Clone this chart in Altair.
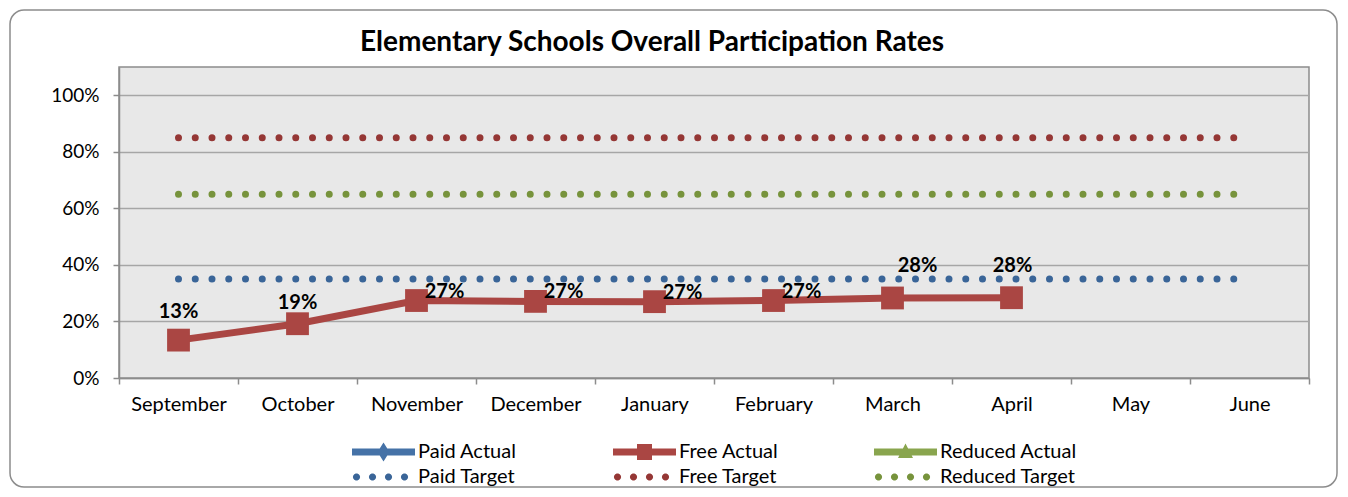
import math
import altair as alt
import pandas as pd

months = ["September", "October", "November", "December", "January",
          "February", "March", "April", "May", "June"]
free_actual = [0.134, 0.192, 0.274, 0.271, 0.270, 0.274, 0.283, 0.284]
paid_target = 0.35
free_target = 0.85
reduced_target = 0.65
series_names = ["Paid Actual", "Free Actual", "Reduced Actual",
                "Paid Target", "Free Target", "Reduced Target"]
series_colors = ["#4572A7", "#AA4643", "#89A54E", "#3A6598", "#953735", "#77933C"]
title_text = "Elementary Schools Overall Participation Rates"

FONT = "Lato"

# ---- tables built from the arrays ----
rows = []
for m, v in zip(months, free_actual):
    rows.append({"month": m, "series": "Free Actual", "value": v})
for name, t in [("Paid Target", paid_target), ("Free Target", free_target),
                ("Reduced Target", reduced_target)]:
    for m in months:
        rows.append({"month": m, "series": name, "value": t})
df = pd.DataFrame(rows)
legend_df = pd.DataFrame({"series": series_names, "month": months[0], "value": 0.0})


# ---- legend glyphs (symbol size 400 -> 10 px per unit) ----
def rect(x0, y0, x1, y1):
    return f"M{x0},{y0}L{x1},{y0}L{x1},{y1}L{x0},{y1}Z"


def circle(cx, r, n=14):
    pts = []
    for i in range(n):
        a = 2 * math.pi * i / n
        pts.append(f"{cx + r * math.cos(a):.3f},{r * math.sin(a):.3f}")
    return "M" + "L".join(pts) + "Z"


CX = 2.15
line_body = rect(-1, -0.35, 5.3, 0.35)
diamond = f"M{CX},-0.95L{CX + 0.6},0L{CX},0.95L{CX - 0.6},0Z"
square = rect(CX - 0.75, -0.8, CX + 0.75, 0.8)
triangle = f"M{CX},-0.85L{CX + 0.75},0.6L{CX - 0.75},0.6Z"
dots = "".join(circle(c, 0.36) for c in [-0.55, 1.05, 2.65, 4.25])
shapes = [line_body + diamond, line_body + square, line_body + triangle, dots, dots, dots]

x_enc = alt.X("month:N", sort=months,
              scale=alt.Scale(type="band", domain=months, paddingInner=0, paddingOuter=0),
              axis=alt.Axis(title=None, tickBand="extent", labelFontSize=20, labelFont=FONT,
                            labelColor="#000000", labelPadding=10, tickSize=6,
                            tickColor="#8C8C8C", domainColor="#8C8C8C", domainWidth=1.5,
                            tickWidth=1.5, grid=False, labelAngle=0))
y_enc = alt.Y("value:Q",
              scale=alt.Scale(domain=[0, 1.1], nice=False),
              axis=alt.Axis(title=None, values=[0, 0.2, 0.4, 0.6, 0.8, 1.0], format=".0%",
                            labelFontSize=19, labelFont=FONT, labelColor="#000000",
                            labelPadding=14, tickSize=6, tickColor="#8C8C8C", tickWidth=1.5,
                            domainColor="#8C8C8C", domainWidth=1.5,
                            grid=True, gridColor="#A6A6A6", gridWidth=1.5))

base = alt.Chart(df)

border = alt.Chart(pd.DataFrame({"a": [0]})).mark_rect(
    fillOpacity=0, stroke="#8C8C8C", strokeWidth=1.5, cornerRadius=14
).encode(x=alt.value(-109), x2=alt.value(1218), y=alt.value(-57), y2=alt.value(420))

targets = base.transform_filter(
    alt.FieldOneOfPredicate(field="series", oneOf=["Paid Target", "Free Target", "Reduced Target"])
).mark_line(strokeWidth=7, strokeDash=[0, 16.75], strokeCap="round").encode(
    x=x_enc, y=y_enc, detail="series:N",
    stroke=alt.Stroke("series:N", scale=alt.Scale(domain=series_names, range=series_colors),
                      legend=None))

actual_f = base.transform_filter(alt.datum.series == "Free Actual")
actual_line = actual_f.mark_line(strokeWidth=7, color="#AA4643").encode(x=x_enc, y=y_enc)
actual_pts = actual_f.mark_point(shape="square", filled=True, size=520, opacity=1,
                                 color="#AA4643").encode(x=x_enc, y=y_enc)


def labels(ms, dx, dy):
    return actual_f.transform_filter(
        alt.FieldOneOfPredicate(field="month", oneOf=ms)
    ).mark_text(fontSize=20, fontWeight="bold", font=FONT, color="#000000",
                dx=dx, dy=dy, baseline="middle").encode(
        x=x_enc, y=y_enc, text=alt.Text("value:Q", format=".0%"))


lab = (labels(["September"], 0, -28) + labels(["October"], 0, -21)
       + labels(["November", "December", "January", "February"], 28, -9)
       + labels(["March"], 25, -32) + labels(["April"], 1, -32))

leg = alt.Legend(title=None, orient="none", legendX=233, legendY=375, direction="horizontal",
                 columns=3, gridAlign="all", columnPadding=58,
                 rowPadding=5, symbolSize=400, symbolOpacity=1,
                 symbolStrokeWidth=0, labelFontSize=20, labelFont=FONT,
                 labelColor="#000000", labelOffset=46, labelLimit=300)

legend_layer = alt.Chart(legend_df).mark_point(filled=True, opacity=0).encode(
    x=x_enc, y=y_enc,
    fill=alt.Fill("series:N", scale=alt.Scale(domain=series_names, range=series_colors),
                  legend=leg),
    shape=alt.Shape("series:N", scale=alt.Scale(domain=series_names, range=shapes),
                    legend=leg))

title = alt.Chart(pd.DataFrame({"t": [title_text]})).mark_text(
    fontSize=28, fontWeight="bold", font=FONT, color="#000000", baseline="middle"
).encode(text="t:N", x=alt.value(533), y=alt.value(-24))

chart = alt.layer(border, targets, actual_line, actual_pts, lab, legend_layer, title).properties(
    width=1190, height=311, autosize="none",
    padding={"left": 111, "top": 59, "right": 29, "bottom": 110},
).resolve_legend(fill="independent", shape="independent", stroke="independent"
).configure_view(fill="#E8E8E8", stroke="#8C8C8C", strokeWidth=1.5)

chart.save("out.html", embed_options={"renderer": "svg", "actions": False})
